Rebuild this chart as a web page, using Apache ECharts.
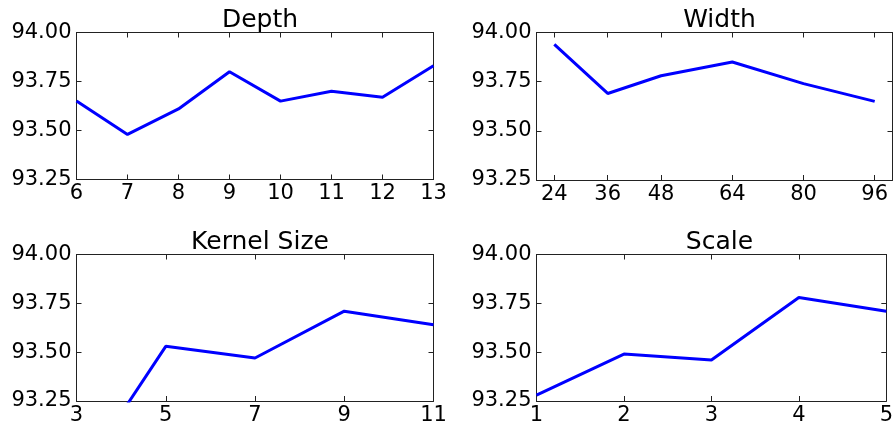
<!DOCTYPE html>
<html>
<head>
<meta charset="utf-8">
<script src="https://cdn.jsdelivr.net/npm/echarts@6/dist/echarts.min.js"></script>
<style>
html,body{margin:0;padding:0;background:#fff;}
#chart{width:896px;height:426px;}
</style>
</head>
<body>
<div id="chart"></div>
<script>
// ---- data ----
const titles = ['Depth', 'Width', 'Kernel Size', 'Scale'];

const depthX = [6, 7, 8, 9, 10, 11, 12, 13];
const depthY = [93.65, 93.48, 93.61, 93.80, 93.65, 93.70, 93.67, 93.83];

const widthX = [24, 36, 48, 64, 80, 96];
const widthY = [93.94, 93.69, 93.78, 93.85, 93.74, 93.65];
const widthTicks = [24, 36, 48, 64, 80, 96];

const kernelX = [3, 5, 7, 9, 11];
const kernelY = [92.84, 93.53, 93.47, 93.71, 93.64];
const kernelTicks = [3, 5, 7, 9, 11];

const scaleX = [1, 2, 3, 4, 5];
const scaleY = [93.28, 93.49, 93.46, 93.78, 93.71];

const yMin = 93.25, yMax = 94.00, yStep = 0.25;

// ---- layout ----
const FONT = 'DejaVu Sans';
const grids = [
  {left: 76.5, top: 32.5, width: 357, height: 147},
  {left: 536.5, top: 32.5, width: 356, height: 147.5},
  {left: 76.5, top: 254.5, width: 357, height: 147},
  {left: 536.5, top: 254.5, width: 356, height: 147}
];
const xRanges = [
  {min: 6, max: 13, interval: 1},
  {min: 20, max: 100, custom: widthTicks},
  {min: 3, max: 11, custom: kernelTicks},
  {min: 1, max: 5, interval: 1}
];
const seriesData = [
  depthX.map((x, i) => [x, depthY[i]]),
  widthX.map((x, i) => [x, widthY[i]]),
  kernelX.map((x, i) => [x, kernelY[i]]),
  scaleX.map((x, i) => [x, scaleY[i]])
];

const lineStyle = {color: '#222', width: 1};
const xAxis = [], yAxis = [], series = [], title = [];

grids.forEach((g, i) => {
  const r = xRanges[i];
  const base = {
    type: 'value', gridIndex: i, min: r.min, max: r.max,
    splitLine: {show: false},
    axisLine: {show: true, lineStyle: lineStyle}
  };
  if (r.interval) base.interval = r.interval;
  const tickBottom = {show: true, inside: true, length: 5, lineStyle: lineStyle};
  const labelBottom = {
    show: true, fontFamily: FONT, fontSize: 21, color: '#000', margin: 4,
    showMinLabel: true, showMaxLabel: true
  };
  if (r.custom) {
    tickBottom.customValues = r.custom;
    labelBottom.customValues = r.custom;
  }
  xAxis.push(Object.assign({}, base, {position: 'bottom', axisTick: tickBottom, axisLabel: labelBottom}));
  const tickTop = Object.assign({}, tickBottom);
  xAxis.push(Object.assign({}, base, {position: 'top', axisTick: tickTop, axisLabel: {show: false}}));

  const ybase = {
    type: 'value', gridIndex: i, min: yMin, max: yMax, interval: yStep,
    splitLine: {show: false},
    axisLine: {show: true, lineStyle: lineStyle},
    axisTick: {show: true, inside: true, length: 5, lineStyle: lineStyle}
  };
  yAxis.push(Object.assign({}, ybase, {
    position: 'left',
    axisLabel: {show: true, fontFamily: FONT, fontSize: 21, color: '#000', margin: 5,
      showMinLabel: true, showMaxLabel: true,
      formatter: v => v.toFixed(2)}
  }));
  yAxis.push(Object.assign({}, ybase, {position: 'right', axisLabel: {show: false}}));

  series.push({
    type: 'line', xAxisIndex: 2 * i, yAxisIndex: 2 * i,
    data: seriesData[i], showSymbol: false, symbol: 'none', clip: true,
    lineStyle: {color: '#0000ff', width: 3}, silent: true, animation: false
  });

  title.push({
    text: titles[i], left: g.left + g.width / 2, top: g.top - 30, textAlign: 'center',
    textStyle: {fontFamily: FONT, fontSize: 25, fontWeight: 'normal', color: '#000'}
  });
});

const chart = echarts.init(document.getElementById('chart'), null, {renderer: 'canvas'});
chart.setOption({
  backgroundColor: '#fff',
  animation: false,
  title: title,
  grid: grids,
  xAxis: xAxis,
  yAxis: yAxis,
  series: series
});
</script>
</body>
</html>
